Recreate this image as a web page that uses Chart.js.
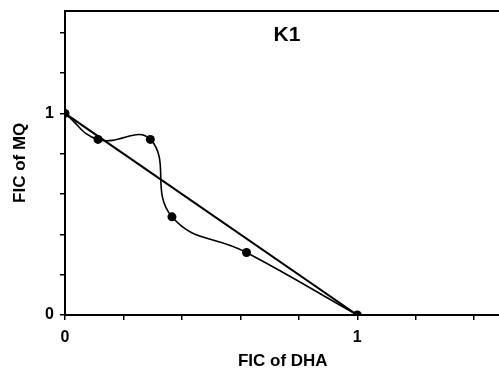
<!DOCTYPE html>
<html>
<head>
<meta charset="utf-8">
<script src="https://cdn.jsdelivr.net/npm/chart.js@4/dist/chart.umd.min.js"></script>
<style>
  html, body { margin: 0; padding: 0; background: #fff; overflow: hidden; }
  canvas { display: block; margin-top: -5px; }
</style>
</head>
<body>
<canvas id="chart" width="505" height="381"></canvas>
<script>
// FIC of DHA (x) vs FIC of MQ (y), isobologram for K1
var ficDHA = [0, 0.113, 0.292, 0.366, 0.621, 1];
var ficMQ = [1, 0.871, 0.871, 0.487, 0.31, 0];

// line of additivity
var additiveX = [0, 1];
var additiveY = [1, 0];

var tickLabels = ['0', '1'];
var panelTitle = 'K1';

var toPoints = function(xs, ys) {
	var pts = [];
	for (var i = 0; i < xs.length; i++) {
		pts.push({ x: xs[i], y: ys[i] });
	}
	return pts;
};

var showLabel = function(value) {
	var s = String(Math.round(value * 100) / 100);
	return tickLabels.indexOf(s) >= 0 ? s : '';
};

var font = 'Liberation Sans, Arial, sans-serif';

var panelTitlePlugin = {
	id: 'panelTitle',
	afterDraw: function(chart) {
		var ctx = chart.ctx;
		var area = chart.chartArea;
		ctx.save();
		ctx.fillStyle = '#000';
		ctx.font = 'bold 21px ' + font;
		ctx.textAlign = 'center';
		ctx.textBaseline = 'middle';
		ctx.fillText(panelTitle, 287, area.top + 25);
		ctx.restore();
	}
};

var config = {
	type: 'scatter',
	data: {
		datasets: [
			{
				data: toPoints(ficDHA, ficMQ),
				showLine: true,
				borderColor: '#000',
				backgroundColor: '#000',
				borderWidth: 1.6,
				pointRadius: 4.5,
				pointBackgroundColor: '#000',
				pointBorderWidth: 0,
				tension: 0.45
			},
			{
				data: toPoints(additiveX, additiveY),
				showLine: true,
				borderColor: '#000',
				borderWidth: 2,
				pointRadius: 0,
				tension: 0
			}
		]
	},
	options: {
		responsive: false,
		animation: false,
		layout: { padding: 0 },
		plugins: {
			legend: { display: false },
			tooltip: { enabled: false }
		},
		scales: {
			x: {
				type: 'linear',
				position: 'bottom',
				min: 0,
				max: 1.49,
				afterFit: function(scale) { scale.height = 61; },
				ticks: {
					stepSize: 0.2,
					includeBounds: false,
					autoSkip: false,
					maxRotation: 0,
					padding: 8,
					color: '#000',
					font: { family: font, size: 16, weight: 'bold' },
					callback: showLabel
				},
				grid: { drawOnChartArea: false, drawTicks: true, tickLength: 5, color: '#000', lineWidth: 1.5 },
				border: { color: '#000', width: 2 },
				title: {
					display: true,
					text: 'FIC of DHA',
					color: '#000',
					font: { family: font, size: 17, weight: 'bold' },
					padding: { top: 0, bottom: 4 }
				}
			},
			x2: {
				type: 'linear',
				position: 'top',
				min: 0,
				max: 1.49,
				afterFit: function(scale) { scale.height = 5; },
				ticks: { display: false },
				grid: { drawOnChartArea: false, drawTicks: false },
				border: { color: '#000', width: 2 }
			},
			y: {
				type: 'linear',
				min: 0,
				max: 1.51,
				afterFit: function(scale) { scale.width = 65; },
				ticks: {
					stepSize: 0.2,
					includeBounds: false,
					autoSkip: false,
					padding: 6,
					color: '#000',
					font: { family: font, size: 16, weight: 'bold' },
					callback: showLabel
				},
				grid: { drawOnChartArea: false, drawTicks: true, tickLength: 5, color: '#000', lineWidth: 1.5 },
				border: { color: '#000', width: 2 },
				title: {
					display: true,
					text: 'FIC of MQ',
					color: '#000',
					font: { family: font, size: 17, weight: 'bold' },
					padding: { top: 10, bottom: 0 }
				}
			}
		}
	},
	plugins: [panelTitlePlugin]
};

var ctx = document.getElementById('chart').getContext('2d');
window.ficChart = new Chart(ctx, config);
</script>
</body>
</html>
